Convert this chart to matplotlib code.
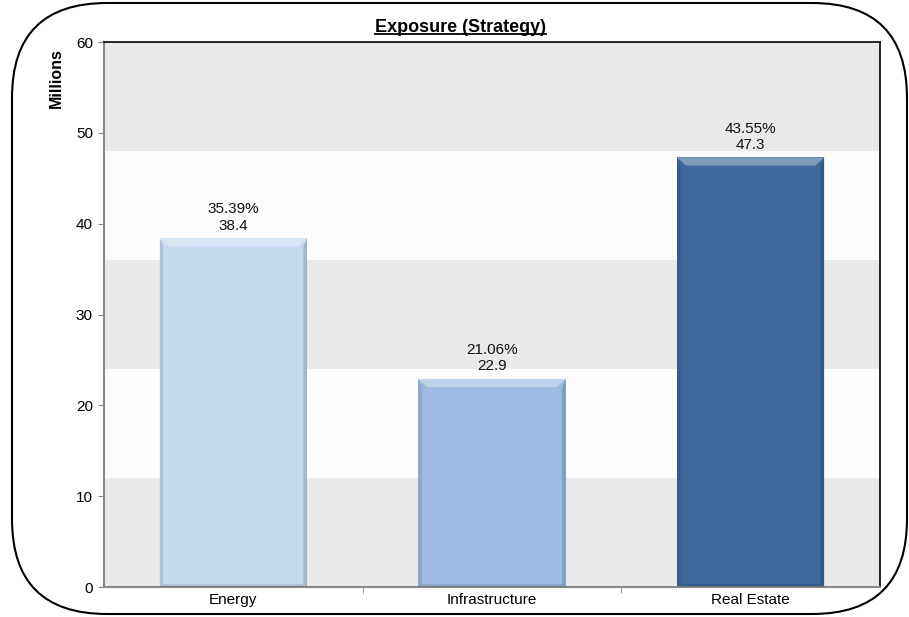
import matplotlib.pyplot as plt
from matplotlib.patches import FancyBboxPatch, Polygon
from matplotlib.transforms import IdentityTransform

plt.rcParams['font.family'] = ['Liberation Sans', 'DejaVu Sans']

categories = ['Energy', 'Infrastructure', 'Real Estate']
values = [38.4, 22.9, 47.3]
shares = ['35.39%', '21.06%', '43.55%']
colors = ['#C5D9F1', '#9DBBE2', '#3D6899']

fig = plt.figure(figsize=(9.09, 6.17), dpi=100)
ax = fig.add_axes([0.1144, 0.0486, 0.8537, 0.8833])

# alternating bands
for lo in range(0, 60, 12):
    ax.axhspan(lo, lo + 12, color='#EAEAEA' if (lo // 12) % 2 == 0 else '#FCFCFC', lw=0, zorder=0)

x = range(len(categories))
w = 0.57
bars = ax.bar(x, values, width=w, color=colors, edgecolor='none', zorder=2)

# simple bevel look
bx, by = 0.035, 0.9
for b, c in zip(bars, colors):
    x0, x1, h = b.get_x(), b.get_x() + b.get_width(), b.get_height()
    ax.add_patch(Polygon([(x0, h), (x1, h), (x1 - bx, h - by), (x0 + bx, h - by)],
                         closed=True, fc='white', alpha=0.35, lw=0, zorder=3))
    ax.add_patch(Polygon([(x0, 0), (x0 + bx * 0.4, 0.3), (x0 + bx * 0.4, h - by), (x0, h)],
                         closed=True, fc='black', alpha=0.10, lw=0, zorder=3))
    ax.add_patch(Polygon([(x1, 0), (x1 - bx * 0.4, 0.3), (x1 - bx * 0.4, h - by), (x1, h)],
                         closed=True, fc='black', alpha=0.16, lw=0, zorder=3))
    ax.add_patch(Polygon([(x0, 0), (x1, 0), (x1 - bx * 0.4, 0.3), (x0 + bx * 0.4, 0.3)],
                         closed=True, fc='black', alpha=0.12, lw=0, zorder=3))

for i, (v, s) in enumerate(zip(values, shares)):
    ax.annotate(f'{s}\n{v}', (i, v), xytext=(0, 4), textcoords='offset points',
                ha='center', va='bottom', fontsize=11, linespacing=1.2, color='#111111')

ax.set_xlim(-0.5, 2.5)
ax.set_ylim(0, 60)
ax.set_yticks(range(0, 61, 10))
ax.set_xticks(list(x))
ax.set_xticklabels(categories, fontsize=11)
ax.tick_params(axis='y', labelsize=11, length=4, color='#888888', pad=4)
ax.tick_params(axis='x', length=0, pad=4)
ax.set_xticks([0.5, 1.5], minor=True)
ax.tick_params(axis='x', which='minor', length=4, color='#888888')

for side in ['left', 'bottom']:
    ax.spines[side].set_color('#888888')
    ax.spines[side].set_linewidth(1.5)
for side in ['top', 'right']:
    ax.spines[side].set_color('black')
    ax.spines[side].set_linewidth(1.2)

ax.set_ylabel('Millions', fontsize=11.5, fontweight='bold')
ax.yaxis.set_label_coords(-0.052, 0.934)
title = fig.text(0.507, 0.956, 'Exposure (Strategy)', ha='center', va='center',
                 fontsize=13, fontweight='bold')

# underline the title
fig.canvas.draw()
bb = title.get_window_extent().transformed(fig.transFigure.inverted())
fig.add_artist(plt.Line2D([bb.x0, bb.x1], [0.945, 0.945], color='black', lw=1.3,
                          transform=fig.transFigure))

frame = FancyBboxPatch((12, 3), 895, 611, boxstyle='round,pad=0,rounding_size=95',
                       transform=IdentityTransform(), fc='none', ec='black', lw=1.5)
fig.add_artist(frame)

fig.savefig('out.png', dpi=100)
